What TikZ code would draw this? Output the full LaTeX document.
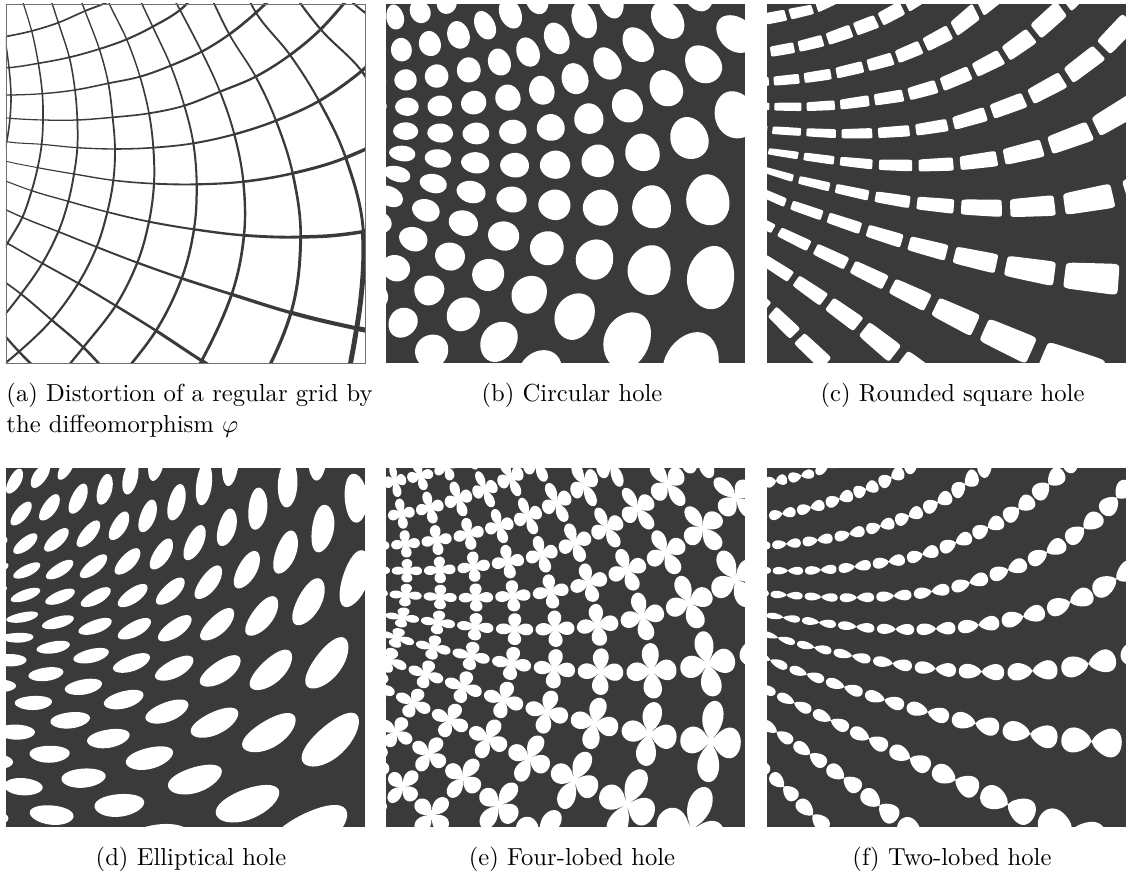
\documentclass[tikz,border=0pt]{standalone}
\definecolor{panelc}{HTML}{3A3A3A}
\definecolor{framec}{HTML}{707070}
\newdimen\hax \newdimen\hbx \newdimen\hcx \newdimen\hdx
\newdimen\hay \newdimen\hby \newdimen\hcy \newdimen\hdy
\newcount\gj
\makeatletter
\def\gsplit#1/#2\relax#3{%
  \expandafter\gdef\csname X#3.\the\gj\endcsname{#1}%
  \expandafter\gdef\csname Y#3.\the\gj\endcsname{#2}%
  \global\advance\gj by 1 }
\def\garc#1#2{\global\gj=0 \@for\gp:=#2\do{\expandafter\gsplit\gp\relax{#1}}}
\makeatother
% grid intersections, arc i (first argument), radial j = 0..12, in units of 1/3 px
\garc{0}{-85/25,-75/125,-65/205,-60/285,-62/345,-72/400,-85/445,-105/490,-130/545,-165/620,-210/690,-260/750,-310/810}
\garc{1}{5/5,15/110,27/203,33/285,30/355,20/425,5/480,-15/530,-40/600,-75/680,-120/750,-170/810,-220/870}
\garc{2}{65/-5,95/93,115/190,127/281,129/360,125/433,113/503,95/572,67/652,22/730,-30/815,-100/890,-170/960}
\garc{3}{148/-15,175/68,208/172,225/270,232/360,232/443,222/522,205/604,175/695,127/790,63/882,-15/975,-130/1070}
\garc{4}{222/-55,255/33,298/147,325/250,338/352,345/447,340/541,322/636,290/741,235/850,155/960,57/1055,-60/1150}
\garc{5}{280/-110,325/5,380/118,420/230,447/340,460/443,462/551,447/665,412/788,347/917,250/1042,155/1155,50/1260}
\garc{6}{350/-160,402/-40,458/80,512/197,553/317,580/430,590/553,582/688,545/835,468/992,350/1145,250/1265,130/1380}
\garc{7}{410/-230,475/-90,540/30,605/155,660/275,703/403,730/545,732/706,695/883,605/1082,490/1265,370/1400,240/1530}
\garc{8}{480/-310,545/-170,615/-45,688/103,767/230,828/362,878/520,902/711,873/938,765/1180,620/1390,480/1550,330/1700}
\garc{9}{540/-380,620/-240,700/-110,768/38,870/165,957/303,1037/473,1090/695,1070/985,990/1290,800/1540,630/1740,450/1900}
\garc{10}{620/-460,700/-320,780/-190,860/-50,962/88,1085/213,1200/390,1480/620,1450/1060,1230/1350,1050/1650,850/1900,650/2100}
\garc{11}{720/-540,800/-400,880/-270,960/-130,1045/-5,1190/110,1350/260,1700/550,1700/1100,1600/1400,1400/1800,1200/2100,1000/2400}
\def\XX#1#2{\csname X\number\numexpr#1\relax.\number\numexpr#2\relax\endcsname}
\def\YY#1#2{\csname Y\number\numexpr#1\relax.\number\numexpr#2\relax\endcsname}
% outlines of the holes, as lists of cell coordinates
\def\mkshape#1#2#3#4{\begingroup\let\hp\relax\gdef\tmpl{}%
  \foreach \ang in {#4}{%
    \pgfmathsetmacro\vS{.5+(#2)}\pgfmathsetmacro\vT{.5+(#3)}\pgfmathsetmacro\vST{\vS*\vT}%
    \xdef\tmpl{\tmpl\hp{\vS}{\vT}{\vST}}}%
  \global\expandafter\let\csname shape#1\endcsname\tmpl\endgroup}
\def\hp#1#2#3{\hpop{\pgfqpoint{\dimexpr\hax+#1\hbx+#2\hcx+#3\hdx\relax}{\dimexpr\hay+#1\hby+#2\hcy+#3\hdy\relax}}\let\hpop\pgfpathlineto}
\def\holecell#1#2#3{%
  \hax=\XX{#1}{#2}pt \hay=\YY{#1}{#2}pt
  \hbx=\XX{#1+1}{#2}pt \advance\hbx by -\hax
  \hby=\YY{#1+1}{#2}pt \advance\hby by -\hay
  \hcx=\XX{#1}{#2+1}pt \advance\hcx by -\hax
  \hcy=\YY{#1}{#2+1}pt \advance\hcy by -\hay
  \hdx=\XX{#1+1}{#2+1}pt \advance\hdx by -\XX{#1+1}{#2}pt \advance\hdx by -\XX{#1}{#2+1}pt \advance\hdx by \hax
  \hdy=\YY{#1+1}{#2+1}pt \advance\hdy by -\YY{#1+1}{#2}pt \advance\hdy by -\YY{#1}{#2+1}pt \advance\hdy by \hay
  % the arcs bow outwards between their crossings
  \ifnum#2>0 \ifnum#2<11
    \advance\hax by \numexpr(\XX{#1}{#2}+\XX{#1+1}{#2}+\XX{#1}{#2+1}+\XX{#1+1}{#2+1}-(\XX{#1}{#2-1})-(\XX{#1+1}{#2-1})-(\XX{#1}{#2+2})-(\XX{#1+1}{#2+2}))/32\relax pt
  \fi\fi
  \let\hpop\pgfpathmoveto #3\pgfpathclose\pgfusepath{fill}}
\def\kk{0.13333}
\tikzset{panelscope/.style 2 args={shift={({.4*(#1-6)},{.4*(879-#2)})},xscale=\kk,yscale=-\kk},
  gridline/.style={draw=panelc,line cap=round},
  capt/.style={anchor=base,inner sep=0pt,font=\normalsize,scale=.985}}
\def\holepanel#1#2#3{\begin{scope}[panelscope={#1}{#2}]
  \fill[panelc] (18,12) rectangle (1096,1090);
  \clip (18,12) rectangle (1096,1090);
  \pgfsetfillcolor{white}
  \foreach \i in {0,...,10}{\foreach \j in {0,...,11}{\holecell{\i}{\j}{#3}}}
\end{scope}}
\def\catmull#1#2#3#4#5#6#7#8#9{\draw[gridline,line width=#9*\kk*1pt] (#3,#4) .. controls ({(#3)+((#5)-(#1))/6},{(#4)+((#6)-(#2))/6}) and ({(#5)-((#7)-(#3))/6},{(#6)-((#8)-(#4))/6}) .. (#5,#6);}
\begin{document}
\begin{tikzpicture}[x=1pt,y=1pt]
\useasboundingbox (0,0) rectangle (450.8,350);
\mkshape{circle}{.365*cos(\ang)}{.365*sin(\ang)}{0,10,...,350}
\mkshape{rsq}{.42*sign(cos(\ang))*pow(abs(cos(\ang))+.0001,.2)}{.165*sign(sin(\ang))*pow(abs(sin(\ang))+.0001,.2)}{0,7.5,...,352.5}
\mkshape{ell}{.4*cos(\ang)+.12*sin(\ang)}{-.28*cos(\ang)+.17*sin(\ang)}{0,10,...,350}
\mkshape{clover}{.47*pow(abs(cos(2*\ang))+.0001,.5)*cos(\ang)}{.47*pow(abs(cos(2*\ang))+.0001,.5)*sin(\ang)}{0,3,...,357}
\mkshape{lobes}{.47*cos(\ang)}{.27*sin(\ang)*pow(abs(cos(\ang))+.0001,.65)}{0,5,...,355}
% panel (a)
\begin{scope}[panelscope={6}{4}]
  \begin{scope}
  \clip (18,12) rectangle (1096,1090);
  \foreach \i in {0,...,11}{\foreach \j in {0,...,11}{%
    \pgfmathtruncatemacro\jm{max(\j-1,0)}\pgfmathtruncatemacro\jp{\j+1}\pgfmathtruncatemacro\jq{min(\j+2,12)}%
    \pgfmathtruncatemacro\im{max(\i-1,0)}\pgfmathtruncatemacro\ip{min(\i+1,11)}%
    \pgfmathsetmacro\wd{.05*veclen((\XX{\ip}{\j})-(\XX{\im}{\j}),(\YY{\ip}{\j})-(\YY{\im}{\j}))/(\ip-\im)}%
    \catmull{\XX{\i}{\jm}}{\YY{\i}{\jm}}{\XX{\i}{\j}}{\YY{\i}{\j}}{\XX{\i}{\jp}}{\YY{\i}{\jp}}{\XX{\i}{\jq}}{\YY{\i}{\jq}}{\wd}}}
  \foreach \j in {0,...,12}{\foreach \i in {0,...,10}{%
    \pgfmathtruncatemacro\im{max(\i-1,0)}\pgfmathtruncatemacro\ip{\i+1}\pgfmathtruncatemacro\iq{min(\i+2,11)}%
    \pgfmathtruncatemacro\jm{max(\j-1,0)}\pgfmathtruncatemacro\jp{min(\j+1,12)}%
    \pgfmathsetmacro\wd{.05*veclen((\XX{\i}{\jp})-(\XX{\i}{\jm}),(\YY{\i}{\jp})-(\YY{\i}{\jm}))/(\jp-\jm)}%
    \catmull{\XX{\im}{\j}}{\YY{\im}{\j}}{\XX{\i}{\j}}{\YY{\i}{\j}}{\XX{\ip}{\j}}{\YY{\ip}{\j}}{\XX{\iq}{\j}}{\YY{\iq}{\j}}{\wd}}}
  \end{scope}
  \draw[framec,line width=.35pt] (18,12) rectangle (1096,1090);
\end{scope}
\holepanel{386}{4}{\shapecircle}
\holepanel{767}{4}{\shapersq}
\holepanel{6}{468}{\shapeell}
\holepanel{386}{468}{\shapeclover}
\holepanel{767}{468}{\shapelobes}
% captions
\node[capt,anchor=base west] (capa1) at ({.4*6},{.4*(875-402)}) {(a) Distortion of a regular grid by};
\node[capt,anchor=base west] (capa2) at ({.4*6},{.4*(875-433)}) {the diffeomorphism $\varphi$};
\node[capt] (capb) at ({.4*572},{.4*(875-402)}) {(b) Circular hole};
\node[capt] (capc) at ({.4*952.5},{.4*(875-402)}) {(c) Rounded square hole};
\node[capt] (capd) at ({.4*191},{.4*(875-866)}) {(d) Elliptical hole};
\node[capt] (cape) at ({.4*572},{.4*(875-866)}) {(e) Four-lobed hole};
\node[capt] (capf) at ({.4*952},{.4*(875-866)}) {(f) Two-lobed hole};
\end{tikzpicture}
\end{document}
